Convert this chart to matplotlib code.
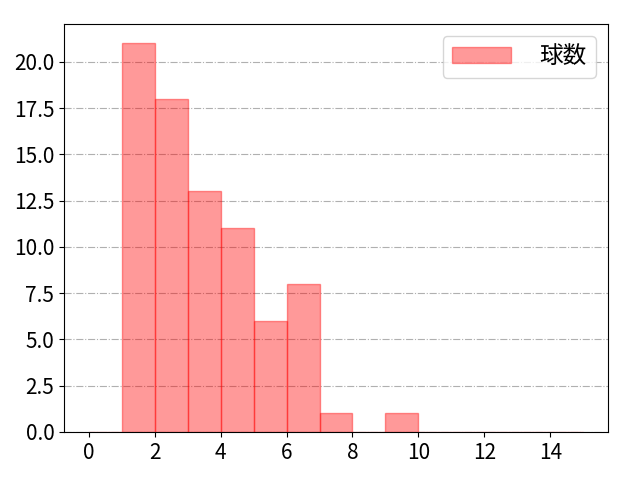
import matplotlib
matplotlib.use('Agg')
import matplotlib.pyplot as plt
import numpy as np

plt.rcParams['font.family'] = ['Noto Sans CJK JP', 'DejaVu Sans']

# bin edges and counts per bin
bin_edges = list(range(0, 16))
counts = [0, 21, 18, 13, 11, 6, 8, 1, 0, 1, 0, 0, 0, 0, 0]
label = '球数'

fig, ax = plt.subplots(figsize=(6.4, 4.8), dpi=100)
ax.hist(bin_edges[:-1], bins=bin_edges, weights=counts,
        color='red', alpha=0.4, edgecolor='red', linewidth=1, label=label)
ax.grid(axis='y', linestyle='-.', color='#b0b0b0', linewidth=0.8)
ax.set_axisbelow(True)
ax.set_xticks(np.arange(0, 15, 2))
ax.tick_params(labelsize=15)
ax.legend(fontsize=17, loc='upper right', handlelength=2.5, handletextpad=1.2)

fig.subplots_adjust(left=0.1, right=0.95, top=0.95, bottom=0.1)
fig.savefig('out.png')
